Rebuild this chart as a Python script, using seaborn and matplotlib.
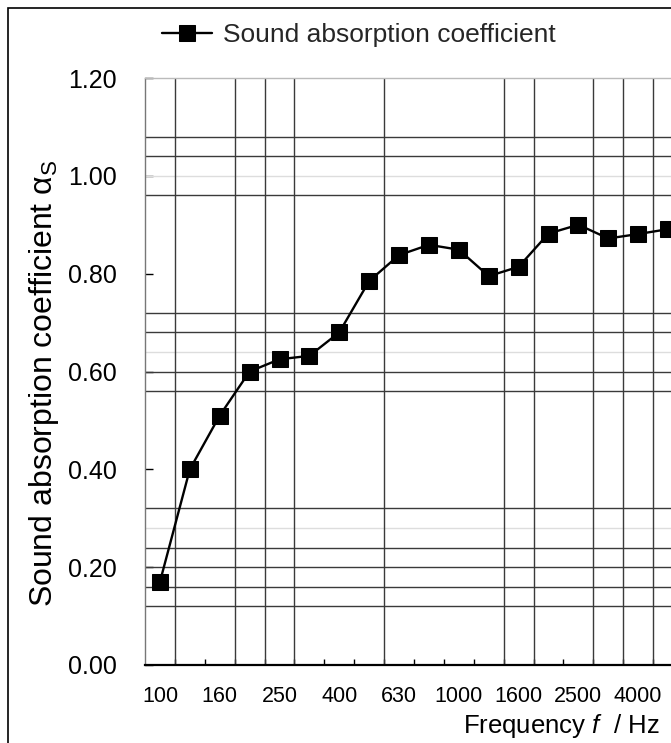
import numpy as np
import matplotlib
matplotlib.use("Agg")
import matplotlib.pyplot as plt
import seaborn as sns
from matplotlib.patches import Rectangle

# 1/3 octave band centre frequencies and measured absorption
freq_bands = ["100", "125", "160", "200", "250", "315", "400", "500", "630",
              "800", "1000", "1250", "1600", "2000", "2500", "3150", "4000", "5000"]
alpha_s = [0.17, 0.40, 0.51, 0.60, 0.625, 0.632, 0.68, 0.785, 0.838,
           0.859, 0.849, 0.795, 0.814, 0.882, 0.90, 0.872, 0.881, 0.891]
y_ticks = [0.0, 0.2, 0.4, 0.6, 0.8, 1.0, 1.2]
series_name = "Sound absorption coefficient"

sns.set_theme(style="white")
plt.rcParams['font.family'] = ['Liberation Sans', 'DejaVu Sans']
plt.rcParams['mathtext.fontset'] = 'custom'
plt.rcParams['mathtext.rm'] = 'Liberation Sans'
plt.rcParams['mathtext.it'] = 'Liberation Sans:italic'

W, H = 671, 743
fig = plt.figure(figsize=(W / 100, H / 100), dpi=100)
ax = fig.add_axes([145 / W, (H - 665) / H, 538 / W, 587 / H])

pos = np.arange(len(freq_bands))

# odd-looking grid lines from the original sheet
dark_h = [1.08, 1.04, 0.96, 0.72, 0.68, 0.60, 0.56, 0.32, 0.24, 0.20, 0.16, 0.12]
light_h = [1.00, 0.64, 0.28]
v_lines = [0.5, 2.5, 3.5, 4.5, 7.5, 11.5, 12.5, 14.5, 15.5, 16.5]
for y in dark_h:
    ax.axhline(y, color='#3a3a3a', lw=1.0, zorder=1)
for y in light_h:
    ax.axhline(y, color='#dddddd', lw=1.0, zorder=1)
for x in v_lines:
    ax.axvline(x, color='#3a3a3a', lw=1.0, zorder=1)

sns.lineplot(x=pos, y=alpha_s, ax=ax, color='black', marker='s', markersize=11.5,
             markeredgecolor='black', linewidth=1.7, label=series_name, zorder=5)
handles, labels = ax.get_legend_handles_labels()
ax.get_legend().remove()

ax.set_xlim(-0.5, 17.5)
ax.set_ylim(0, 1.2)

# tick marks at band boundaries, labels at every other band
ax.set_xticks(pos[:-1] + 0.5)
ax.set_xticklabels([])
ax.set_xticks(pos[::2], minor=True)
ax.set_xticklabels(freq_bands[::2], minor=True)
ax.tick_params(axis='x', which='major', direction='in', length=4.5, width=1,
               color='black', bottom=True)
ax.tick_params(axis='x', which='minor', length=0, pad=15, labelsize=15.5,
               labelcolor='black', bottom=True)

ax.set_yticks(y_ticks)
ax.set_yticklabels([f"{v:.2f}" for v in y_ticks])
ax.tick_params(axis='y', direction='in', length=6, width=1, color='black',
               pad=20, labelsize=18, labelcolor='black', left=True)

ax.spines['bottom'].set_color('black')
ax.spines['bottom'].set_linewidth(1.6)
ax.spines['left'].set_color('#777777')
ax.spines['left'].set_linewidth(1.0)
ax.spines['top'].set_color('#bbbbbb')
ax.spines['top'].set_linewidth(1.0)
ax.spines['right'].set_visible(False)

# outer frame of the sheet
fig.add_artist(Rectangle((8 / W, -0.1), 1.2, 1 - 8 / H + 0.1, transform=fig.transFigure,
                         fill=False, edgecolor='black', lw=1.2))

fig.legend(handles, labels, loc='center left', bbox_to_anchor=(162 / W, 1 - 35 / H),
           frameon=False, fontsize=19, handlelength=1.9, handletextpad=0.4,
           borderpad=0, borderaxespad=0, markerscale=0.95)

fig.text(660 / W, 1 - 733 / H, "Frequency $f$  / Hz", ha='right', va='baseline',
         fontsize=18.5, color='black')
fig.text(61 / W, 1 - 383 / H, "Sound absorption coefficient α$_\\mathrm{S}$",
         rotation=90, ha='right', va='center', fontsize=23, color='black')

fig.savefig("out.png", dpi=100)
